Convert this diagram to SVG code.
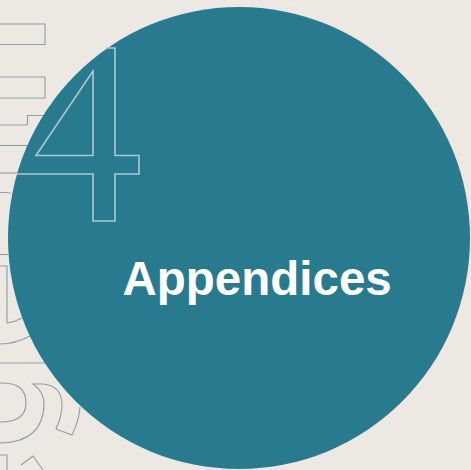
<svg xmlns="http://www.w3.org/2000/svg" width="471" height="470" viewBox="0 0 471 470">
<style>
.o{fill:none;stroke:#8a9fab;stroke-width:1.100}
.f{fill:none;stroke:#b0c8d2;stroke-width:1.600}
</style>
<defs>
<filter id="paper" x="0" y="0" width="100%" height="100%">
<feTurbulence type="fractalNoise" baseFrequency="0.012 0.09" numOctaves="3" seed="4"/>
<feColorMatrix values="0 0 0 0 0.86  0 0 0 0 0.82  0 0 0 0 0.77  0.8 0 0 0 -0.18"/>
</filter>
</defs>
<rect width="471" height="470" fill="#ece8e2"/>
<rect width="471" height="470" filter="url(#paper)"/>
<g id="background-lettering">
<path class="o" d="M0 24H45V44.500H0"/>
<path class="o" d="M0 77H45V98H0"/>
<path class="o" d="M0 125H26Q27.500 125 27.500 123V115.500H44"/>
<path class="o" d="M0 145.500H28"/>
<path class="o" d="M0 173H18"/>
<path class="o" d="M0 192.500H8Q10 192.500 11 194"/>
<path class="o" d="M0 254.500H8"/>
<path class="o" d="M0 266H7V323Q15 322 22 318"/>
<path class="o" d="M0 344Q15 344 30 336"/>
<path class="o" d="M0 363H45"/>
<path class="o" d="M0 383Q26 382 26 403Q26 422 0 422"/>
<path class="o" d="M0 443Q44 442 44 403Q44 392 33 384H43Q62 386 62 405Q62 416 56 429L72 435Q79 421 80 407"/>
<path class="o" d="M0 455H7V470"/>
<path class="o" d="M21 465L33 456L43 470"/>
</g>
<g id="circle">
<circle cx="239" cy="238" r="231" fill="#287a8f"/>
</g>
<g id="number-4">
<path class="f" d="M106 48H115V155.500H139V174H115V221H93V174H17"/>
<path class="f" d="M93 71V155.500H36Z"/>
</g>
<g id="title">
<text x="122.500" y="295" font-family="'Liberation Sans',Arial,sans-serif" font-weight="700" font-size="47.500" fill="#ffffff">Appendices</text>
</g>
</svg>
